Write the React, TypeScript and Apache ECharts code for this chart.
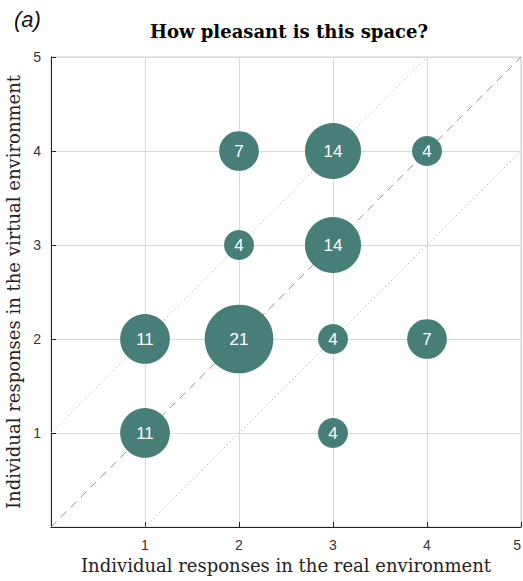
import React, { useEffect, useRef } from "react";
import * as echarts from "echarts";

const realX = [2, 3, 4, 2, 3, 1, 2, 3, 4, 1, 3];
const virtualY = [4, 4, 4, 3, 3, 2, 2, 2, 2, 1, 1];
const counts = [7, 14, 4, 4, 14, 11, 21, 4, 7, 11, 4];
const tickValues = [1, 2, 3, 4, 5];

export default function App() {
  const ref = useRef<HTMLDivElement>(null);
  useEffect(() => {
    const chart = echarts.init(ref.current!, null, { renderer: "svg" });
    const bubbles = realX.map((x, i) => [x, virtualY[i], counts[i]]);
    chart.setOption({
      animation: false,
      backgroundColor: "#fff",
      title: [
        {
          text: "How pleasant is this space?",
          left: 284,
          top: 17,
          textAlign: "center",
          textStyle: { fontFamily: "DejaVu Serif", fontWeight: "bold", fontSize: 18, color: "#000" },
        },
        {
          text: "(a)",
          left: 9,
          top: 3,
          textStyle: { fontFamily: "Liberation Sans", fontStyle: "italic", fontWeight: "normal", fontSize: 22, color: "#111" },
        },
      ],
      grid: {
        left: 51,
        top: 57,
        width: 470,
        height: 470,
        show: true,
        borderColor: "#ccc",
        borderWidth: 1,
        containLabel: false,
        outerBoundsMode: "none",
      },
      xAxis: {
        type: "value",
        min: 0,
        max: 5,
        interval: 1,
        name: "Individual responses in the real environment",
        nameLocation: "middle",
        nameGap: 28,
        nameTextStyle: { fontFamily: "DejaVu Serif", fontSize: 18, color: "#222" },
        axisLine: { show: true, lineStyle: { color: "#222", width: 1 } },
        axisTick: { show: true, inside: true, length: 5, lineStyle: { color: "#222" } },
        axisLabel: {
          fontFamily: "Liberation Sans",
          fontSize: 14,
          color: "#333",
          margin: 11,
          alignMaxLabel: "right",
          formatter: (v: number) => (tickValues.includes(v) ? String(v) : ""),
        },
        splitLine: { show: true, lineStyle: { color: "#d9d9d9", width: 1 } },
      },
      yAxis: {
        type: "value",
        min: 0,
        max: 5,
        interval: 1,
        name: "Individual responses in the virtual environment",
        nameLocation: "middle",
        nameGap: 23,
        nameTextStyle: { fontFamily: "DejaVu Serif", fontSize: 18, color: "#222" },
        axisLine: { show: true, lineStyle: { color: "#222", width: 1 } },
        axisTick: { show: true, inside: true, length: 5, lineStyle: { color: "#222" } },
        axisLabel: {
          fontFamily: "Liberation Sans",
          fontSize: 14,
          color: "#333",
          margin: 10,
          formatter: (v: number) => (tickValues.includes(v) ? String(v) : ""),
        },
        splitLine: { show: true, lineStyle: { color: "#d9d9d9", width: 1 } },
      },
      series: [
        {
          type: "line",
          data: [[0, 0], [5, 5]],
          symbol: "none",
          lineStyle: { color: "#999", width: 1, type: [8, 6] },
          z: 1,
        },
        {
          type: "line",
          data: [[0, 1], [4, 5]],
          symbol: "none",
          lineStyle: { color: "#aaa", width: 1, type: [1, 3] },
          z: 1,
        },
        {
          type: "line",
          data: [[1, 0], [5, 4]],
          symbol: "none",
          lineStyle: { color: "#aaa", width: 1, type: [1, 3] },
          z: 1,
        },
        {
          type: "scatter",
          data: bubbles,
          symbolSize: (d: number[]) => 15 * Math.sqrt(d[2]),
          itemStyle: { color: "#477e78", opacity: 1 },
          label: {
            show: true,
            position: "inside",
            formatter: (p: any) => String(p.value[2]),
            color: "#fff",
            fontFamily: "Liberation Sans",
            fontSize: 17,
          },
          z: 3,
        },
      ],
    });
    return () => chart.dispose();
  }, []);
  return <div ref={ref} style={{ width: 523, height: 581, position: "absolute", left: 0, top: 0 }} />;
}
